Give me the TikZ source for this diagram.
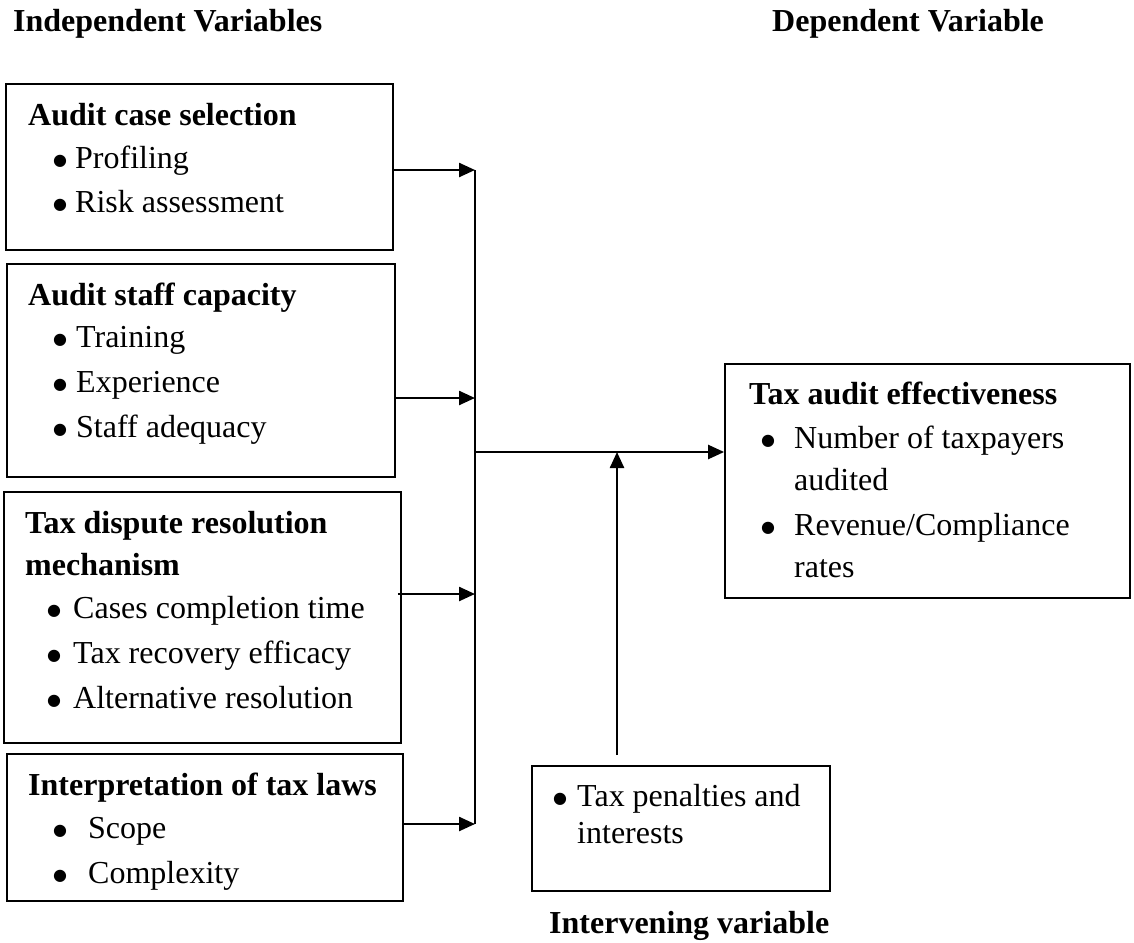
\documentclass[tikz,border=0pt]{standalone}
\usepackage{fontspec}
\setmainfont{Liberation Serif}
\newfontfamily\symfont{DejaVu Sans}
\usetikzlibrary{arrows.meta}
\tikzset{
  box/.style={draw, line width=1.8pt, inner sep=0pt},
  txt/.style={anchor=base west, inner sep=0pt, font=\fontsize{32}{40}\selectfont},
  bul/.style={anchor=base west, inner sep=0pt, xshift=-1pt, yshift=3pt, font=\symfont\fontsize{16}{16}\selectfont},
  bold/.style={anchor=base west, inner sep=0pt, font=\fontsize{32}{40}\selectfont\bfseries},
  arr/.style={line width=2.4pt, -{Triangle[length=16pt,width=14pt]}},
  bus/.style={line width=2.4pt}
}
\newcommand{\bitem}[5]{%
  \node[bul] (#1b) at (#2,#4) {●};
  \node[txt] (#1) at (#3,#4) {#5};}
\begin{document}
\begin{tikzpicture}[x=1pt,y=-1pt]
\useasboundingbox (0,0) rectangle (1134,942);
% titles
\node[bold] (tind) at (13,32) {Independent Variables};
\node[bold] (tdep) at (772,32) {Dependent Variable};
% boxes
\node[box, minimum width=387pt, minimum height=166pt] (b1) at (199.5,167) {};
\node[box, minimum width=388pt, minimum height=213pt] (b2) at (201,370.5) {};
\node[box, minimum width=397pt, minimum height=251pt] (b3) at (202.5,617.5) {};
\node[box, minimum width=396pt, minimum height=147pt] (b4) at (205,827.5) {};
\node[box, minimum width=405pt, minimum height=234pt] (b5) at (927.5,481) {};
\node[box, minimum width=298pt, minimum height=125pt] (b6) at (681,828.5) {};
% box 1
\node[bold] (h1) at (28,125) {Audit case selection};
\bitem{p11}{54}{75}{168}{Profiling}
\bitem{p12}{54}{75}{212}{Risk assessment}
% box 2
\node[bold] (h2) at (28,305) {Audit staff capacity};
\bitem{p21}{54}{76}{347}{Training}
\bitem{p22}{54}{76}{392}{Experience}
\bitem{p23}{54}{76}{437}{Staff adequacy}
% box 3
\node[bold] (h3a) at (25,533) {Tax dispute resolution};
\node[bold] (h3b) at (25,575) {mechanism};
\bitem{p31}{48}{73}{618}{Cases completion time}
\bitem{p32}{48}{73}{663}{Tax recovery efficacy}
\bitem{p33}{48}{73}{708}{Alternative resolution}
% box 4
\node[bold] (h4) at (28,795) {Interpretation of tax laws};
\bitem{p41}{54}{88}{838}{Scope}
\bitem{p42}{54}{88}{883}{Complexity}
% box 5
\node[bold] (h5) at (749,404) {Tax audit effectiveness};
\bitem{p51}{762}{794}{448}{Number of taxpayers}
\node[txt] (p51c) at (794,490) {audited};
\bitem{p52}{762}{794}{535}{Revenue/Compliance}
\node[txt] (p52c) at (794,577) {rates};
% box 6
\bitem{p61}{554}{577}{806}{Tax penalties and}
\node[txt] (p61c) at (577,843) {interests};
\node[bold] (tint) at (549,933) {Intervening variable};
% connectors
\coordinate (j1) at (475,170);
\coordinate (j2) at (475,398);
\coordinate (j3) at (475,594);
\coordinate (j4) at (475,824);
\coordinate (jm) at (475,452);
\coordinate (um) at (617,452);
\coordinate (us) at (617,755);
\draw[bus] (j1) -- (j4);
\draw[arr] (b1.east |- j1) -- (j1);
\draw[arr] (b2.east |- j2) -- (j2);
\draw[arr] ([xshift=-4pt]b3.east |- j3) -- (j3);
\draw[arr] (b4.east |- j4) -- (j4);
\draw[arr] (jm) -- (b5.west |- jm);
\draw[arr] (us) -- (um);
\end{tikzpicture}
\end{document}
